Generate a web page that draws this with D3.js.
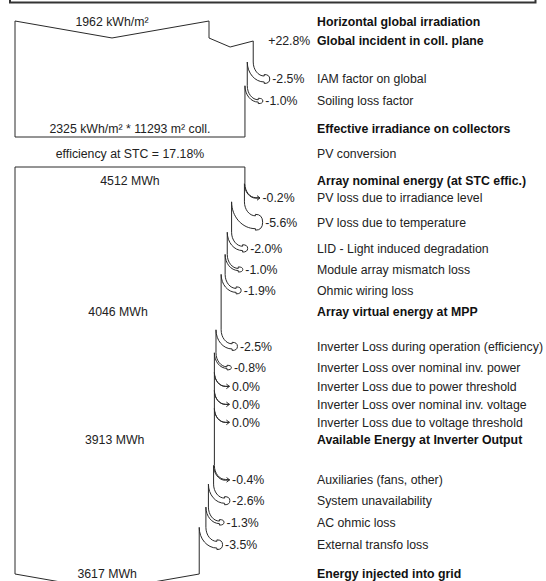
<!DOCTYPE html>
<html><head><meta charset="utf-8">
<script src="https://cdn.jsdelivr.net/npm/d3@7"></script>
<style>
html,body{margin:0;padding:0;background:#fff;}
svg{display:block;font-family:"Liberation Sans",Arial,sans-serif;}
</style></head><body>
<svg id="chart" width="546" height="581"></svg>
<script>
// ---- Irradiance stage (kWh/m²) ----
const horizontalGlobal = 1962;
const planeGainPct = 22.8;
const irradianceLossPct = [-2.5, -1.0];
const irradianceLossNames = ["IAM factor on global", "Soiling loss factor"];
const effectiveIrradiance = 2325;
const collectorArea = 11293;
const stcEfficiencyPct = 17.18;

// ---- Energy stages (MWh) ----
const stageNames = ["Array nominal energy (at STC effic.)", "Array virtual energy at MPP",
  "Available Energy at Inverter Output", "Energy injected into grid"];
const stageEnergy = [4512, 4046, 3913, 3617];
const arrayLossPct = [-0.2, -5.6, -2.0, -1.0, -1.9];
const arrayLossNames = ["PV loss due to irradiance level", "PV loss due to temperature",
  "LID - Light induced degradation", "Module array mismatch loss", "Ohmic wiring loss"];
const inverterLossPct = [-2.5, -0.8, 0.0, 0.0, 0.0];
const inverterLossNames = ["Inverter Loss during operation (efficiency)", "Inverter Loss over nominal inv. power",
  "Inverter Loss due to power threshold", "Inverter Loss over nominal inv. voltage",
  "Inverter Loss due to voltage threshold"];
const gridLossPct = [-0.4, -2.6, -1.3, -3.5];
const gridLossNames = ["Auxiliaries (fans, other)", "System unavailability", "AC ohmic loss", "External transfo loss"];

// ---- layout ----
const FS = 12.3;
const flowLeft = 15;
const labelX = 317;
const stroke = "#2a2a2a";
const textCol = "#222";
const boldCol = "#111";
const vSlope = 0.175;              // slope of the chevron ends

const xIrr = d3.scaleLinear().domain([0, horizontalGlobal]).range([flowLeft, 209]);
const xEnergy = d3.scaleLinear().domain([0, stageEnergy[0]]).range([flowLeft, xIrr(effectiveIrradiance)]);

const loc = d3.formatLocale({decimal: ".", thousands: ",", grouping: [3], currency: ["", ""], minus: "-"});
const fmtPct = v => (v === 0 ? "0.0" : loc.format("+.1f")(v)) + "%";
const fmtInt = loc.format("d");

const svg = d3.select("#chart");

// frame edge at the top of the page
svg.append("path").attr("d", "M10,-6V2.5H535.5V-6")
  .attr("fill", "none").attr("stroke", "#333").attr("stroke-width", 2);

// ---- row positions ----
const lossStep = (wa, wb) => 18 + 0.95 * (wa + wb) / 2;
const gap = {gain: 19, firstIrrLoss: 38, toEffective: 28, toConversion: 25, toNominal: 27,
  firstLoss: [17, 35, 40], toStage: [21, 17.5, 29]};

function textRow(y, str, opts = {}) {
  svg.append("text")
    .attr("x", opts.x ?? labelX).attr("y", y).attr("dy", "0.36em")
    .attr("text-anchor", opts.anchor ?? "start")
    .attr("font-size", FS)
    .attr("font-weight", opts.bold ? "bold" : "normal")
    .attr("fill", opts.bold ? boldCol : textCol)
    .text(str);
}

// loss arrow: band of width w leaving the flow's right edge xr, ending at row y
function lossArrow(xr, w, yl) {
  const a = 11, b = 14, k = 0.5523;
  const L = 4 + 0.25 * w;
  const ys = yl - w / 2 - b;
  const xe = xr + a, top = yl - w / 2, bot = yl + w / 2, tip = xe + L;
  const p = d3.path();
  p.moveTo(xr, ys);
  p.bezierCurveTo(xr, ys + k * b, xe - k * a, top, xe, top);
  if (w < 1) {
    // thin loss: edges run to the tip, open barbs
    p.lineTo(tip, yl);
    p.lineTo(xe, bot);
    p.moveTo(tip - 3, yl - 2.3);
    p.lineTo(tip, yl);
    p.lineTo(tip - 3, yl + 2.3);
    p.moveTo(xe, bot);
  } else {
    const h = 1.5;
    p.lineTo(xe, top - h);
    p.quadraticCurveTo(tip, top - h, tip, yl);
    p.quadraticCurveTo(tip, bot + h, xe, bot + h);
    p.lineTo(xe, bot);
  }
  p.bezierCurveTo(xe - k * (a + w), bot, xr - w, ys + k * (b + w), xr - w, ys);
  svg.append("path").attr("d", p.toString())
    .attr("fill", "none").attr("stroke", stroke).attr("stroke-width", 1);
  return {ys, labelX: tip + 2.5};
}

function vline(x, y1, y2) {
  svg.append("line").attr("x1", x).attr("x2", x).attr("y1", y1).attr("y2", y2)
    .attr("stroke", stroke).attr("stroke-width", 1);
}

// ===== Irradiance block =====
const yHoriz = 22;
const yGain = yHoriz + gap.gain;
const globalIncident = horizontalGlobal * (1 + planeGainPct / 100);
const xH = xIrr(horizontalGlobal), xG = xIrr(globalIncident);
const topY = yHoriz - 1;
const notchY = yGain - 3;

// outline: left edge, top chevron, gain notch
const outline1 = d3.path();
outline1.moveTo(xIrr(effectiveIrradiance), 137);
outline1.lineTo(flowLeft, 137);
outline1.lineTo(flowLeft, topY);
outline1.lineTo((flowLeft + xH) / 2, topY + vSlope * (xH - flowLeft) / 2);
outline1.lineTo(xH, topY);
outline1.lineTo(xH, notchY);
outline1.lineTo((xH + xG) / 2 - 1, yGain + 6);
outline1.lineTo(xG, yGain);
svg.append("path").attr("d", outline1.toString()).attr("fill", "none")
  .attr("stroke", stroke).attr("stroke-width", 1);

textRow(yHoriz, fmtInt(horizontalGlobal) + " kWh/m²", {x: (flowLeft + xH) / 2, anchor: "middle"});
textRow(yHoriz, "Horizontal global irradiation", {bold: true});
textRow(yGain, fmtPct(planeGainPct), {x: xG + 15});
textRow(yGain, "Global incident in coll. plane", {bold: true});

let cur = globalIncident, xr = xG, yPrev = yGain, segTop = yGain, wPrev = 0;
irradianceLossPct.forEach((pct, i) => {
  const next = cur * (1 + pct / 100);
  const w = xIrr(cur) - xIrr(next);
  const yl = i === 0 ? yPrev + gap.firstIrrLoss : yPrev + lossStep(wPrev, w);
  const arr = lossArrow(xr, w, yl);
  vline(xr, segTop, arr.ys);
  textRow(yl, fmtPct(pct), {x: arr.labelX});
  textRow(yl, irradianceLossNames[i]);
  segTop = arr.ys; xr -= w; cur = next; yPrev = yl; wPrev = w;
});
vline(xr, segTop, 137);

const yEff = yPrev + gap.toEffective;
const xE = xIrr(effectiveIrradiance);
textRow(yEff, `${fmtInt(effectiveIrradiance)} kWh/m² * ${fmtInt(collectorArea)} m² coll.`,
  {x: (flowLeft + xE) / 2, anchor: "middle"});
textRow(yEff, "Effective irradiance on collectors", {bold: true});

const yConv = yEff + gap.toConversion;
textRow(yConv, `efficiency at STC = ${stcEfficiencyPct.toFixed(2)}%`, {x: (flowLeft + xE) / 2, anchor: "middle"});
textRow(yConv, "PV conversion");

// ===== Energy block =====
const yNom = yConv + gap.toNominal;
const blockTop = 167, blockBottom = 574;
const x0 = xEnergy(stageEnergy[0]);
svg.append("path").attr("d", `M${x0},${blockTop}H${flowLeft}V${blockBottom}`)
  .attr("fill", "none").attr("stroke", stroke).attr("stroke-width", 1);

textRow(yNom, fmtInt(stageEnergy[0]) + " MWh", {x: (flowLeft + x0) / 2, anchor: "middle"});
textRow(yNom, stageNames[0], {bold: true});

const groups = [
  {pct: arrayLossPct, names: arrayLossNames},
  {pct: inverterLossPct, names: inverterLossNames},
  {pct: gridLossPct, names: gridLossNames}
];
cur = stageEnergy[0]; xr = x0; yPrev = yNom; segTop = blockTop; wPrev = 0;
groups.forEach((grp, gi) => {
  grp.pct.forEach((pct, i) => {
    const next = cur * (1 + pct / 100);
    const w = xEnergy(cur) - xEnergy(next);
    const yl = i === 0 ? yPrev + gap.firstLoss[gi] : yPrev + lossStep(wPrev, w);
    const arr = lossArrow(xr, w, yl);
    vline(xr, segTop, arr.ys);
    textRow(yl, fmtPct(pct), {x: arr.labelX});
    textRow(yl, grp.names[i]);
    segTop = arr.ys; xr -= w; cur = next; yPrev = yl; wPrev = w;
  });
  // stage reached: re-anchor on the stated energy
  cur = stageEnergy[gi + 1];
  const xs = xEnergy(cur);
  const yStage = yPrev + gap.toStage[gi];
  textRow(yStage, fmtInt(cur) + " MWh", {x: (flowLeft + xs) / 2, anchor: "middle"});
  textRow(yStage, stageNames[gi + 1], {bold: true});
  yPrev = yStage; wPrev = 0;
});
vline(xr, segTop, blockBottom);

// closing chevron of the injected energy
const xEnd = xEnergy(stageEnergy[3]);
svg.append("path")
  .attr("d", `M${flowLeft},${blockBottom}L${(flowLeft + xEnd) / 2},${blockBottom + vSlope * (xEnd - flowLeft) / 2}L${xEnd},${blockBottom}`)
  .attr("fill", "none").attr("stroke", stroke).attr("stroke-width", 1);
</script>
</body></html>
